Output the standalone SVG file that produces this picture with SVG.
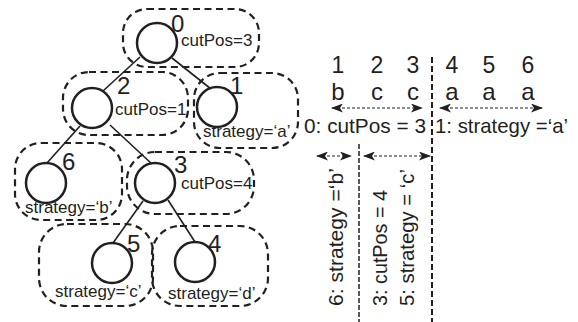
<svg xmlns="http://www.w3.org/2000/svg" width="578" height="322" viewBox="0 0 578 322">
<style>
text{font-family:"Liberation Sans",Arial,sans-serif;fill:#231f20}
.box{fill:none;stroke:#231f20;stroke-width:2.2;stroke-dasharray:7 4.5}
.nd{fill:none;stroke:#231f20;stroke-width:2.5}
.num{font-size:24px}
.lab{font-size:17px}
.edge{stroke:#231f20;stroke-width:1.6;fill:none}
.arr{stroke:#231f20;stroke-width:1.2;stroke-dasharray:3 2;fill:none;marker-start:url(#ah);marker-end:url(#ah)}
.big{font-size:21px}
.seq{font-size:23px;text-anchor:middle}
.chr{font-size:24px;text-anchor:middle}
</style>
<defs>
<marker id="ah" viewBox="0 0 12 9" refX="11" refY="4.5" markerWidth="12" markerHeight="9" markerUnits="userSpaceOnUse" orient="auto-start-reverse">
<path d="M0,0 L12,4.5 L0,9 L3,4.5 z" fill="#231f20"/>
</marker>
</defs>
<rect width="578" height="322" fill="#fff"/>
<g id="connectors">
<line class="edge" x1="140" y1="57" x2="103" y2="91"/>
<line class="edge" x1="172" y1="58" x2="211" y2="89"/>
<line class="edge" x1="80" y1="126" x2="47" y2="163"/>
<line class="edge" x1="110" y1="125" x2="152" y2="164"/>
<line class="edge" x1="143" y1="201" x2="113" y2="243"/>
<line class="edge" x1="168" y1="200" x2="195" y2="242"/>
</g>
<g id="node0">
<rect class="box" x="123" y="9" width="136" height="58" rx="24"/>
<circle class="nd" cx="157" cy="43" r="20"/>
<text class="num" x="171" y="32">0</text>
<text class="lab" x="181" y="46">cutPos=3</text>
</g>
<g id="node2">
<rect class="box" x="63" y="72" width="125" height="63" rx="26"/>
<circle class="nd" cx="92" cy="108" r="20"/>
<text class="num" x="117" y="93.5">2</text>
<text class="lab" x="115" y="114.5">cutPos=1</text>
</g>
<g id="node1">
<rect class="box" x="194" y="73" width="104" height="75" rx="26"/>
<circle class="nd" cx="217" cy="107" r="20"/>
<text class="num" x="230" y="94">1</text>
<text class="lab" x="203" y="137">strategy=‘a’</text>
</g>
<g id="node6">
<rect class="box" x="15" y="143" width="107" height="77" rx="26"/>
<circle class="nd" cx="46" cy="183" r="20"/>
<text class="num" x="62" y="170">6</text>
<text class="lab" x="25" y="213">strategy=‘b’</text>
</g>
<g id="node3">
<rect class="box" x="127" y="152" width="127" height="62" rx="28"/>
<circle class="nd" cx="155" cy="183" r="20"/>
<text class="num" x="174" y="173">3</text>
<text class="lab" x="181" y="189">cutPos=4</text>
</g>
<g id="node5">
<rect class="box" x="39" y="224" width="114" height="82" rx="28"/>
<circle class="nd" cx="112" cy="263" r="20"/>
<text class="num" x="127" y="252">5</text>
<text class="lab" x="55" y="297">strategy=‘c’</text>
</g>
<g id="node4">
<rect class="box" x="152" y="226" width="116" height="80" rx="28"/>
<circle class="nd" cx="195" cy="262" r="20"/>
<text class="num" x="208" y="252">4</text>
<text class="lab" x="168" y="299">strategy=‘d’</text>
</g>
<g id="sequence">
<text class="seq" x="338" y="73">1</text>
<text class="seq" x="377" y="73">2</text>
<text class="seq" x="413" y="73">3</text>
<text class="seq" x="452" y="73">4</text>
<text class="seq" x="489" y="73">5</text>
<text class="seq" x="528" y="73">6</text>
<text class="chr" x="338" y="99.5">b</text>
<text class="chr" x="377" y="99.5">c</text>
<text class="chr" x="413" y="99.5">c</text>
<text class="chr" x="452" y="99.5">a</text>
<text class="chr" x="489" y="99.5">a</text>
<text class="chr" x="528" y="99.5">a</text>
<line x1="432" y1="57" x2="432" y2="322" stroke="#231f20" stroke-width="2" stroke-dasharray="6 3"/>
<line x1="359" y1="144" x2="359" y2="322" stroke="#231f20" stroke-width="1.5" stroke-dasharray="5 2"/>
<line class="arr" x1="332" y1="108" x2="422" y2="108"/>
<line class="arr" x1="440" y1="108" x2="542" y2="108"/>
<line class="arr" x1="317" y1="156" x2="351" y2="156"/>
<line class="arr" x1="364" y1="156" x2="430" y2="156"/>
<text class="big" x="304" y="133" textLength="122" lengthAdjust="spacingAndGlyphs">0: cutPos = 3</text>
<text class="big" x="435" y="133" textLength="133" lengthAdjust="spacingAndGlyphs">1: strategy =‘a’</text>
<text class="big" transform="translate(343,306) rotate(-90)" textLength="138" lengthAdjust="spacingAndGlyphs">6: strategy =‘b’</text>
<text class="big" transform="translate(387,306) rotate(-90)" textLength="116" lengthAdjust="spacingAndGlyphs">3: cutPos = 4</text>
<text class="big" transform="translate(414,306) rotate(-90)" textLength="137" lengthAdjust="spacingAndGlyphs">5: strategy = ‘c’</text>
</g>
</svg>
